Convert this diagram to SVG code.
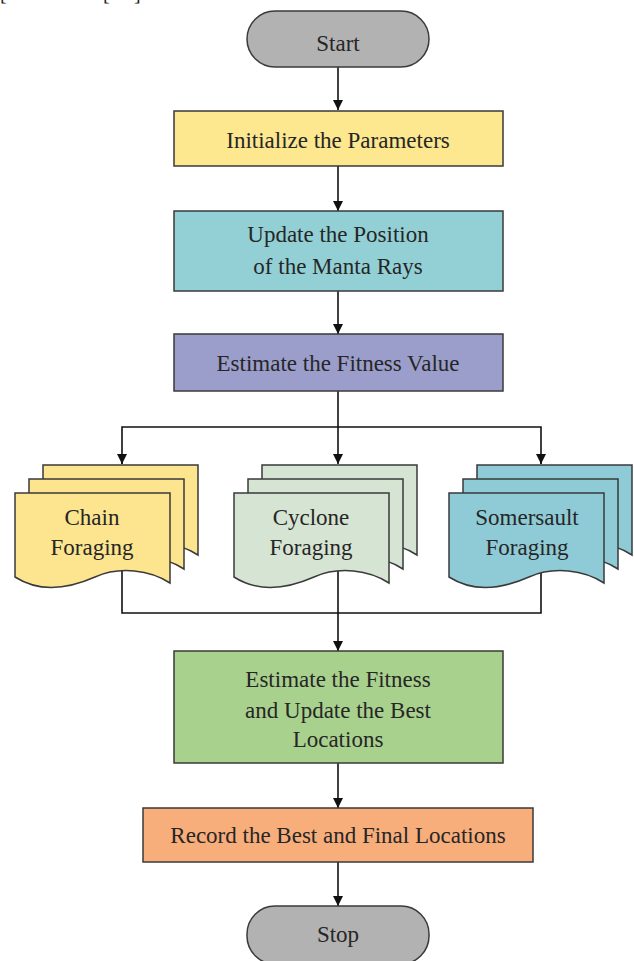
<svg xmlns="http://www.w3.org/2000/svg" width="634" height="961" viewBox="0 0 634 961">
<style>
.box{stroke:#3a3a3a;stroke-width:1.5}
.t{font-family:"Liberation Serif","Times New Roman",serif;font-size:23px;fill:#262626;text-anchor:middle}
.ln{fill:none;stroke:#111;stroke-width:1.6}
.br{font-family:"Liberation Serif",serif;font-size:20px;fill:#222}
</style>
<defs>
<marker id="ah" viewBox="0 0 10 10" refX="10" refY="5" markerWidth="10" markerHeight="10" markerUnits="userSpaceOnUse" orient="auto">
<path d="M0,0 L10,5 L0,10 Z" fill="#111"/>
</marker>
<path id="doc" d="M0,0 H155 V90 C135,77 105,73 80,84 C55,95 25,100 0,84 Z" stroke="#3a3a3a" stroke-width="1.5"/>
</defs>
<rect width="634" height="961" fill="#fff"/>
<text class="br" x="0" y="0">[</text>
<text class="br" x="103" y="0">[</text>
<text class="br" x="134" y="0">]</text>
<g id="connectors">
<line class="ln" x1="338" y1="67" x2="338" y2="110" marker-end="url(#ah)"/>
<line class="ln" x1="338" y1="166" x2="338" y2="211" marker-end="url(#ah)"/>
<line class="ln" x1="338" y1="291" x2="338" y2="334" marker-end="url(#ah)"/>
<line class="ln" x1="338" y1="391" x2="338" y2="464" marker-end="url(#ah)"/>
<polyline class="ln" points="122,464 122,427 541,427 541,464"/>
<line class="ln" x1="122" y1="455" x2="122" y2="464" marker-end="url(#ah)"/>
<line class="ln" x1="541" y1="455" x2="541" y2="464" marker-end="url(#ah)"/>
<polyline class="ln" points="122,570 122,613 541,613 541,570"/>
<line class="ln" x1="338" y1="570" x2="338" y2="651" marker-end="url(#ah)"/>
<line class="ln" x1="338" y1="763" x2="338" y2="808" marker-end="url(#ah)"/>
<line class="ln" x1="338" y1="862" x2="338" y2="906" marker-end="url(#ah)"/>
</g>
<g id="start">
<rect class="box" x="247" y="11" width="182" height="56" rx="28" fill="#b2b2b2"/>
<text class="t" x="338" y="51">Start</text>
</g>
<g id="init">
<rect class="box" x="174" y="111" width="329" height="55" fill="#fde78f"/>
<text class="t" x="338" y="148">Initialize the Parameters</text>
</g>
<g id="update">
<rect class="box" x="174" y="211" width="329" height="80" fill="#93d0d6"/>
<text class="t" x="338" y="242">Update the Position</text>
<text class="t" x="338" y="274">of the Manta Rays</text>
</g>
<g id="estimate">
<rect class="box" x="174" y="334" width="329" height="57" fill="#9b9ecb"/>
<text class="t" x="338" y="371">Estimate the Fitness Value</text>
</g>
<g id="chain">
<use href="#doc" x="43" y="465" fill="#fce58e"/>
<use href="#doc" x="29" y="479" fill="#fce58e"/>
<use href="#doc" x="15" y="493" fill="#fce58e"/>
<text class="t" x="92" y="525">Chain</text>
<text class="t" x="92" y="555">Foraging</text>
</g>
<g id="cyclone">
<use href="#doc" x="262" y="465" fill="#d6e4d4"/>
<use href="#doc" x="248" y="479" fill="#d6e4d4"/>
<use href="#doc" x="234" y="493" fill="#d6e4d4"/>
<text class="t" x="311" y="525">Cyclone</text>
<text class="t" x="311" y="555">Foraging</text>
</g>
<g id="somersault">
<use href="#doc" x="477" y="465" fill="#8fcbd6"/>
<use href="#doc" x="463" y="479" fill="#8fcbd6"/>
<use href="#doc" x="449" y="493" fill="#8fcbd6"/>
<text class="t" x="527" y="525">Somersault</text>
<text class="t" x="527" y="555">Foraging</text>
</g>
<g id="fitness">
<rect class="box" x="174" y="651" width="329" height="112" fill="#a9d18e"/>
<text class="t" x="338" y="687">Estimate the Fitness</text>
<text class="t" x="338" y="718">and Update the Best</text>
<text class="t" x="338" y="747">Locations</text>
</g>
<g id="record">
<rect class="box" x="143" y="808" width="390" height="54" fill="#f8ae7b"/>
<text class="t" x="338" y="843">Record the Best and Final Locations</text>
</g>
<g id="stop">
<rect class="box" x="247" y="906" width="182" height="58" rx="28" fill="#b2b2b2"/>
<text class="t" x="338" y="942">Stop</text>
</g>
</svg>
